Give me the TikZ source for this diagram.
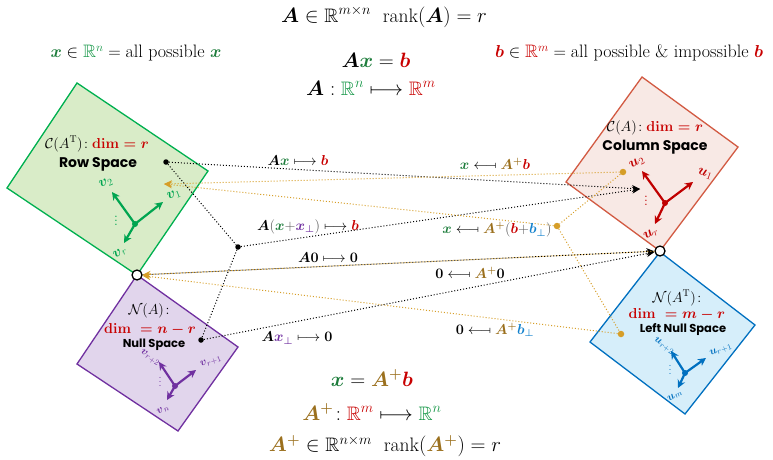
\documentclass[tikz,border=0pt]{standalone}
\usepackage{amsmath,amssymb}
\usepackage{graphicx}
\usepackage{fontspec}
\newfontfamily\gothic{Poppins}
\usetikzlibrary{arrows.meta}
\definecolor{xg}{RGB}{30,125,60}
\definecolor{rng}{RGB}{20,150,70}
\definecolor{br}{RGB}{200,0,0}
\definecolor{ap}{RGB}{155,112,30}
\definecolor{pp}{RGB}{112,48,160}
\definecolor{bb}{RGB}{20,130,205}
\definecolor{orl}{RGB}{214,158,40}
\definecolor{gfill}{RGB}{217,236,200}
\definecolor{gline}{RGB}{0,176,80}
\definecolor{gvecc}{RGB}{0,165,80}
\definecolor{rfill}{RGB}{248,233,229}
\definecolor{rline}{RGB}{210,90,66}
\definecolor{rvec}{RGB}{192,0,0}
\definecolor{pfill}{RGB}{225,213,236}
\definecolor{pline}{RGB}{112,48,160}
\definecolor{bfill}{RGB}{214,238,250}
\definecolor{bline}{RGB}{0,112,192}
\definecolor{gr}{RGB}{90,90,90}
\newcommand{\mA}{\boldsymbol{A}}
\newcommand{\mX}{{\color{xg}\boldsymbol{x}}}
\newcommand{\mB}{{\color{br}\boldsymbol{b}}}
\newcommand{\mAp}{{\color{ap}\boldsymbol{A^{+}}}}
\newcommand{\mXp}{{\color{pp}\boldsymbol{x_{\perp}}}}
\newcommand{\mBp}{{\color{bb}\boldsymbol{b_{\perp}}}}
\newcommand{\Rn}{{\color{rng}\mathbb{R}^{n}}}
\newcommand{\Rm}{{\color{br}\mathbb{R}^{m}}}
\newcommand{\lmapsfrom}{\mathrel{\reflectbox{$\longmapsto$}}}
\newcommand{\mzero}{\boldsymbol{0}}
\tikzset{
  every node/.style={inner sep=0pt},
  bigt/.style={font=\fontsize{19.5}{22}\selectfont},
  medt/.style={font=\fontsize{18}{20}\selectfont},
  lblt/.style={font=\fontsize{14.5}{16}\selectfont},
  boxt/.style={font=\fontsize{14}{16}\selectfont},
  spacet/.style={font=\gothic\bfseries\fontsize{14}{16}\selectfont},
  spacesm/.style={font=\gothic\bfseries\fontsize{11.5}{13}\selectfont},
  vlab/.style={font=\fontsize{14}{16}\selectfont},
  vlabs/.style={font=\fontsize{11}{13}\selectfont},
  blk/.style={black, line width=1pt, dash pattern=on 1pt off 2pt},
  org/.style={orl, line width=1pt, dash pattern=on 1pt off 2pt},
  tipb/.style={-{Stealth[length=8pt,width=7pt]}},
  dotb/.style={circle, fill=black, minimum size=5.5pt},
  doto/.style={circle, fill=orl, minimum size=6.5pt},
  zc/.style={circle, draw=black, fill=white, line width=1.3pt, minimum size=10pt},
  vec/.style={line width=2.2pt, -{Stealth[length=8pt,width=8pt]}},
}
\begin{document}
\begin{tikzpicture}[x=1pt,y=-1pt]
\useasboundingbox (0,0) rectangle (773,460);
% boxes
\draw[gline, fill=gfill, line width=1.3pt] (77,83) -- (208,171) -- (137,275) -- (7,188) -- cycle;
\draw[rline, fill=rfill, line width=1.3pt] (642,77) -- (738,147) -- (660,251) -- (566,182) -- cycle;
\draw[pline, fill=pfill, line width=1.3pt] (137,275) -- (238,347) -- (178,431) -- (77,364) -- cycle;
\draw[bline, fill=bfill, line width=1.3pt] (660,252) -- (755,325) -- (685,414) -- (590,342) -- cycle;

% header texts
\node[bigt] (title) at (384,17) {$\mA\in\mathbb{R}^{m\times n}\ \ \mathrm{rank}(\mA)=r$};
\node[medt] (xall) at (136,53) {$\mX\in\Rn=\text{all possible }\mX$};
\node[medt] (ball) at (629,53) {$\mB\in\Rm=\text{all possible \& impossible }\mB$};
\node[bigt] (axb) at (376,60) {$\mA\mX=\mB$};
\node[bigt] (amap) at (371,88) {$\mA:\Rn\longmapsto\Rm$};
\node[bigt] (xapb) at (372,378) {$\mX=\mAp\mB$};
\node[bigt] (apmap) at (372,412) {$\mAp\!:\Rm\longmapsto\Rn$};
\node[bigt] (apin) at (385,446) {$\mAp\in\mathbb{R}^{n\times m}\ \ \mathrm{rank}(\mAp)=r$};

% box labels
\node[boxt] (rowdim) at (97,144) {$\mathcal{C}(A^{\mathrm{T}})\!:{\color{br}\boldsymbol{\mathbf{dim}=r}}$};
\node[spacet] (rowname) at (98,164) {Row Space};
\node[boxt] (coldim) at (655,128) {$\mathcal{C}(A)\!:{\color{br}\boldsymbol{\mathbf{dim}=r}}$};
\node[spacet] (colname) at (655,147) {Column Space};
\node[boxt] (nulldim1) at (149,311) {$\mathcal{N}(A)\!:$};
\node[boxt] (nulldim2) at (150,329) {${\color{br}\boldsymbol{\mathbf{dim}\ =n-r}}$};
\node[spacesm] (nullname) at (154,345) {Null Space};
\node[boxt] (lnulldim1) at (677,298) {$\mathcal{N}(A^{\mathrm{T}})\!:$};
\node[boxt] (lnulldim2) at (677,314) {${\color{br}\boldsymbol{\mathbf{dim}\ =m-r}}$};
\node[spacesm] (lnullname) at (683,330) {Left Null Space};

% basis vectors: row space
\node[circle, fill=gvecc, minimum size=6pt] (gO) at (135,224) {};
\coordinate (gv1) at (163,202);
\coordinate (gv2) at (112,192);
\coordinate (gvr) at (124,243);
\draw[vec, gvecc] (gO.center) -- (gv1);
\draw[vec, gvecc] (gO.center) -- (gv2);
\draw[vec, gvecc] (gO.center) -- (gvr);
\node[vlab, text=gvecc, rotate=20] (gl1) at (174,195) {$\boldsymbol{v}_1$};
\node[vlab, text=gvecc, rotate=20] (gl2) at (106,183) {$\boldsymbol{v}_2$};
\node[vlab, text=gvecc, rotate=30] (glr) at (120,253) {$\boldsymbol{v}_r$};
\node[vlab, text=gvecc] (gld) at (116,218) {$\vdots$};

% basis vectors: column space
\node[circle, fill=rvec, minimum size=6pt] (rO) at (665,203) {};
\coordinate (ru1) at (693,182);
\coordinate (ru2) at (642,171);
\coordinate (rur) at (655,224);
\draw[vec, rvec] (rO.center) -- (ru1);
\draw[vec, rvec] (rO.center) -- (ru2);
\draw[vec, rvec] (rO.center) -- (rur);
\node[vlab, text=rvec, rotate=-20] (rl1) at (705,174) {$\boldsymbol{u}_1$};
\node[vlab, text=rvec, rotate=30] (rl2) at (637,163) {$\boldsymbol{u}_2$};
\node[vlab, text=rvec, rotate=30] (rlr) at (651,234) {$\boldsymbol{u}_r$};
\node[vlab, text=rvec] (rld) at (646,198) {$\vdots$};

% basis vectors: null space
\node[circle, fill=pp, minimum size=6pt] (pO) at (175,386) {};
\coordinate (pv1) at (196,370);
\coordinate (pv2) at (159,362);
\coordinate (pvn) at (167,400);
\draw[vec, pp] (pO.center) -- (pv1);
\draw[vec, pp] (pO.center) -- (pv2);
\draw[vec, pp] (pO.center) -- (pvn);
\node[vlabs, text=pp, rotate=20] (pl1) at (211,362) {$\boldsymbol{v}_{r+1}$};
\node[vlabs, text=pp, rotate=-35] (pl2) at (150,358) {$\boldsymbol{v}_{r+2}$};
\node[vlabs, text=pp, rotate=30] (pln) at (163,410) {$\boldsymbol{v}_{n}$};
\node[vlabs, text=pp] (pld) at (160,379) {$\vdots$};

% basis vectors: left null space
\node[circle, fill=bline, minimum size=6pt] (bO) at (685,373) {};
\coordinate (bu1) at (706,358);
\coordinate (bu2) at (671,351);
\coordinate (bum) at (678,388);
\draw[vec, bline] (bO.center) -- (bu1);
\draw[vec, bline] (bO.center) -- (bu2);
\draw[vec, bline] (bO.center) -- (bum);
\node[vlabs, text=bline, rotate=20] (bl1) at (721,350) {$\boldsymbol{u}_{r+1}$};
\node[vlabs, text=bline, rotate=-35] (bl2) at (664,346) {$\boldsymbol{u}_{r+2}$};
\node[vlabs, text=bline, rotate=30] (blm) at (675,396) {$\boldsymbol{u}_{m}$};
\node[vlabs, text=bline] (bld) at (670,367) {$\vdots$};

% connector points
\node[dotb] (rowdot) at (166,162) {};
\node[dotb] (middot) at (238,247) {};
\node[dotb] (nulldot) at (201,340) {};
\coordinate (colTip) at (640,189);
\coordinate (rowTip) at (164,184);
\node[zc] (zeroL) at (137,275) {};
\node[zc] (zeroR) at (660,251) {};
\node[doto] (od1) at (623,172) {};
\node[doto] (od2) at (557,226) {};
\node[doto] (od3) at (621,334) {};

% black connectors
\draw[blk] (rowdot) -- (middot);
\draw[blk] (middot) -- (nulldot);
\draw[blk, tipb] (rowdot) -- (colTip);
\draw[blk, tipb] (middot) -- (colTip);
\draw[blk, tipb] (zeroL) -- (zeroR);
\draw[blk, tipb] (nulldot) -- (zeroR);
% orange connectors
\draw[org] (od1) -- (od2);
\draw[org] (od2) -- (od3);
\draw[org, tipb] (od1) -- (rowTip);
\draw[org, tipb] (od2) -- (rowTip);
\draw[org, tipb] (zeroR) -- (zeroL);
\draw[org, tipb] (od3) -- (zeroL);

% connector labels
\node[lblt] (l1) at (298,160) {$\mA\mX\longmapsto\mB$};
\node[lblt] (l2) at (308,227) {$\mA{\color{gr}(}\mX{\color{gr}+}\mXp{\color{gr})}\longmapsto\mB$};
\node[lblt] (l3) at (328,258) {$\mA\mzero\longmapsto\mzero$};
\node[lblt] (l4) at (297,338) {$\mA\mXp\longmapsto\mzero$};
\node[lblt] (l5) at (495,164) {$\mX\lmapsfrom\mAp\mB$};
\node[lblt] (l6) at (497,230) {$\mX\lmapsfrom\mAp{\color{gr}(}\mB{\color{gr}+}\mBp{\color{gr})}$};
\node[lblt] (l7) at (470,273) {$\mzero\lmapsfrom\mAp\mzero$};
\node[lblt] (l8) at (495,330) {$\mzero\lmapsfrom\mAp\mBp$};
\end{tikzpicture}
\end{document}
